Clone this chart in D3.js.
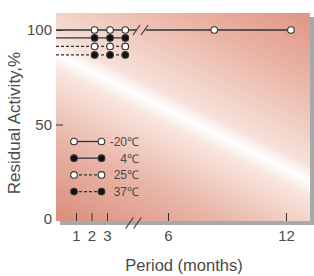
<!DOCTYPE html>
<html>
<head>
<meta charset="utf-8">
<script src="https://cdn.jsdelivr.net/npm/d3@7.9.0/dist/d3.min.js"></script>
<style>
  html, body { margin: 0; padding: 0; background: #fff; }
  svg { display: block; font-family: "Liberation Sans", Arial, Helvetica, sans-serif; }
</style>
</head>
<body>
<svg id="chart" width="314" height="276"></svg>
<script>
// data (months on the broken axis, activity in %)
const months = [0, 2.2, 3.15, 3.9];
const monthsLong = [0, 2.2, 3.15, 3.9, 8.35, 12.25];
const labels = ['-20\u2103', '4\u2103', '25\u2103', '37\u2103'];
const minus20 = [100, 100, 100, 100, 100, 100];
const plus4 = [95.8, 95.8, 95.8, 95.8];
const plus25 = [91.3, 91.3, 91.3, 91.3];
const plus37 = [86.8, 86.8, 86.8, 86.8];
const xTicks = [1, 2, 3, 6, 12];
const yTicks = [0, 50, 100];

const series = [
  { label: labels[0], x: monthsLong, y: minus20, open: true, dashed: false },
  { label: labels[1], x: months, y: plus4, open: false, dashed: false },
  { label: labels[2], x: months, y: plus25, open: true, dashed: true },
  { label: labels[3], x: months, y: plus37, open: false, dashed: true }
];

const plotLeft = 56, plotRight = 310, plotTop = 13, plotBottom = 221;
const ink = '#333';
const textInk = '#4a4a4a';

const svg = d3.select('#chart');

// piecewise scale because of the axis break between 3 and 6 months
const x = d3.scaleLinear()
  .domain([0, 1, 3, 6, 12])
  .range([plotLeft, 76, 107, 168, 286]);
const y = d3.scaleLinear().domain([0, 100]).range([219, 30]);

// background gradient
const defs = svg.append('defs');
const grad = defs.append('linearGradient')
  .attr('id', 'bg')
  .attr('gradientUnits', 'userSpaceOnUse')
  .attr('x1', 118).attr('y1', 255)
  .attr('x2', 254).attr('y2', -17);
grad.selectAll('stop')
  .data([
    [0, '#d98c7b'], [0.25, '#e8b5a7'], [0.45, '#f8e4dc'],
    [0.5, '#ffffff'], [0.55, '#f6e0d8'], [0.8, '#e9b3a4'], [1, '#df9483']
  ])
  .join('stop')
  .attr('offset', d => d[0])
  .attr('stop-color', d => d[1]);

// shadow + plot area
svg.append('rect')
  .attr('x', plotLeft + 4).attr('y', plotTop + 4)
  .attr('width', plotRight - plotLeft).attr('height', plotBottom - plotTop)
  .attr('fill', '#a8a9ab');
svg.append('rect')
  .attr('x', plotLeft).attr('y', plotTop)
  .attr('width', plotRight - plotLeft).attr('height', plotBottom - plotTop)
  .attr('fill', 'url(#bg)');

// y axis
const yAxis = svg.append('g')
  .attr('transform', `translate(${plotLeft},0)`)
  .call(d3.axisLeft(y).tickValues(yTicks).tickSize(-7).tickPadding(4));
yAxis.select('.domain').remove();
yAxis.selectAll('.tick line').attr('stroke', ink)
  .filter(d => d === 0).remove();
yAxis.selectAll('.tick text')
  .attr('font-size', 15).attr('fill', textInk).attr('font-family', null);

// x axis
const xAxis = svg.append('g')
  .attr('transform', `translate(0,${plotBottom})`)
  .call(d3.axisBottom(x).tickValues(xTicks).tickSize(-8).tickPadding(9));
xAxis.select('.domain').remove();
xAxis.selectAll('.tick line').attr('stroke', ink);
xAxis.selectAll('.tick text')
  .attr('font-size', 15).attr('fill', textInk).attr('font-family', null);

// axis break marks
function slashes(cx, cy, h) {
  [-4, 4].forEach(o => {
    svg.append('line')
      .attr('x1', cx + o - h * 0.35).attr('y1', cy + h / 2)
      .attr('x2', cx + o + h * 0.35).attr('y2', cy - h / 2)
      .attr('stroke', ink).attr('stroke-width', 1.1);
  });
}
slashes(x(4.3), plotBottom + 2, 11);

// lines
const line = d3.line().x(d => x(d[0])).y(d => y(d[1]));
const lineBreak = 4.65;
series.forEach(s => {
  const pts = s.x.map((m, i) => [m, s.y[i]]);
  const segs = [pts.filter(p => p[0] < lineBreak), pts.filter(p => p[0] > lineBreak)];
  if (segs[1].length) {
    segs[0].push([lineBreak - 0.2, s.y[0]]);
    segs[1].unshift([lineBreak + 0.25, s.y[0]]);
  }
  segs.filter(g => g.length).forEach(g => {
    svg.append('path')
      .attr('d', line(g))
      .attr('fill', 'none')
      .attr('stroke', ink)
      .attr('stroke-width', 1.3)
      .attr('stroke-dasharray', s.dashed ? '3,2' : null);
  });
  if (segs[1].length) slashes(x(lineBreak), y(s.y[0]), 10);
  svg.selectAll(null)
    .data(pts.filter(p => p[0] > 0))
    .join('circle')
    .attr('cx', d => x(d[0])).attr('cy', d => y(d[1]))
    .attr('r', 3.3)
    .attr('fill', s.open ? '#fff' : '#111')
    .attr('stroke', ink).attr('stroke-width', 1.1);
});

// legend
const leg = svg.append('g');
series.forEach((s, i) => {
  const ly = 141.5 + i * 16.7;
  leg.append('line')
    .attr('x1', 74).attr('x2', 101.5).attr('y1', ly).attr('y2', ly)
    .attr('stroke', ink).attr('stroke-width', 1.3)
    .attr('stroke-dasharray', s.dashed ? '3,2' : null);
  [74, 101.5].forEach(cx => {
    leg.append('circle')
      .attr('cx', cx).attr('cy', ly).attr('r', 3.3)
      .attr('fill', s.open ? '#fff' : '#111')
      .attr('stroke', ink).attr('stroke-width', 1.1);
  });
  leg.append('text')
    .attr('x', 139).attr('y', ly).attr('dy', '0.36em')
    .attr('text-anchor', 'end')
    .attr('font-size', 12).attr('fill', textInk)
    .text(s.label);
});

// titles
svg.append('text')
  .attr('x', 184).attr('y', 271)
  .attr('text-anchor', 'middle')
  .attr('font-size', 16.5).attr('fill', textInk)
  .text('Period (months)');
svg.append('text')
  .attr('transform', 'translate(20,123) rotate(-90)')
  .attr('text-anchor', 'middle')
  .attr('font-size', 17).attr('fill', textInk)
  .text('Residual Activity,%');
</script>
</body>
</html>
